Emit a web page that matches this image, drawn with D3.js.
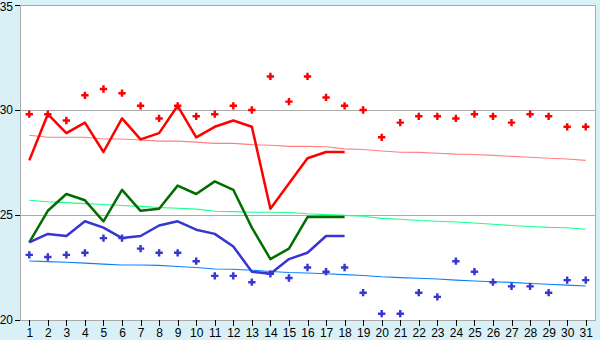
<!DOCTYPE html>
<html lang="en">
<head>
<meta charset="utf-8">
<style>
  body { margin: 0; padding: 0; background: #d9f0f7; }
  svg { display: block; font-family: "DejaVu Sans", Verdana, sans-serif; }
  .axis .domain { display: none; }
  .axis text { font-size: 12px; fill: #000; }
  .axis line { stroke: #000; }
</style>
</head>
<body>
<svg width="600" height="340"></svg>
<script src="https://d3js.org/d3.v7.min.js"></script>
<script>
// days of the month
var days = d3.range(1, 32);
var yTicks = [20, 25, 30, 35];

// daily max / min (points)
var maxDaily = [29.8, 29.8, 29.5, 30.7, 31.0, 30.8, 30.2, 29.6, 30.2, 29.7,
  29.8, 30.2, 30.0, 31.6, 30.4, 31.6, 30.6, 30.2, 30.0, 28.7,
  29.4, 29.7, 29.7, 29.6, 29.8, 29.7, 29.4, 29.8, 29.7, 29.2, 29.2];
var minDaily = [23.1, 23.0, 23.1, 23.2, 23.9, 23.9, 23.4, 23.2, 23.2, 22.8,
  22.1, 22.1, 21.8, 22.2, 22.0, 22.5, 22.3, 22.5, 21.3, 20.3,
  20.3, 21.3, 21.1, 22.8, 22.3, 21.8, 21.6, 21.6, 21.3, 21.9, 21.9];

// running averages (first 18 days)
var maxAvg = [27.6, 29.8, 28.9, 29.4, 28.0, 29.6, 28.6, 28.9, 30.2, 28.7,
  29.2, 29.5, 29.2, 25.3, 26.5, 27.7, 28.0, 28.0];
var meanAvg = [23.7, 25.2, 26.0, 25.7, 24.7, 26.2, 25.2, 25.3, 26.4, 26.0,
  26.6, 26.2, 24.4, 22.9, 23.4, 24.9, 24.9, 24.9];
var minAvg = [23.7, 24.1, 24.0, 24.7, 24.4, 23.9, 24.0, 24.5, 24.7, 24.3,
  24.1, 23.5, 22.3, 22.2, 22.9, 23.2, 24.0, 24.0];

// normals
var maxNormal = [28.8, 28.7, 28.7, 28.7, 28.62, 28.62, 28.57, 28.52, 28.52, 28.47,
  28.41, 28.41, 28.35, 28.32, 28.27, 28.27, 28.25, 28.15, 28.12, 28.05,
  27.99, 27.98, 27.94, 27.9, 27.88, 27.84, 27.79, 27.75, 27.7, 27.67, 27.6];
var meanNormal = [25.7, 25.63, 25.59, 25.54, 25.5, 25.45, 25.41, 25.36, 25.32, 25.28,
  25.18, 25.16, 25.13, 25.13, 25.12, 25.06, 25.02, 24.98, 24.94, 24.84,
  24.8, 24.74, 24.7, 24.67, 24.62, 24.56, 24.5, 24.45, 24.41, 24.39, 24.32];
var minNormal = [22.81, 22.78, 22.75, 22.71, 22.66, 22.62, 22.62, 22.6, 22.55, 22.5,
  22.43, 22.42, 22.37, 22.31, 22.26, 22.24, 22.2, 22.16, 22.12, 22.06,
  22.02, 21.99, 21.95, 21.9, 21.86, 21.82, 21.79, 21.74, 21.7, 21.66, 21.62];

var svg = d3.select("svg"),
  margin = { top: 5, right: 5, bottom: 20, left: 20 },
  width = +svg.attr("width") - margin.left - margin.right,
  height = +svg.attr("height") - margin.top - margin.bottom,
  g = svg.append("g").attr("transform", "translate(" + margin.left + "," + margin.top + ")");

var x = d3.scalePoint().domain(days).range([0, width]).padding(0.5);
var y = d3.scaleLinear().domain([20, 35]).range([height, 0]);

g.append("rect")
  .attr("width", width)
  .attr("height", height)
  .attr("fill", "#fff")
  .attr("stroke", "#aaa")
  .attr("shape-rendering", "crispEdges");

// grid lines
g.append("g").selectAll("line")
  .data([25, 30])
  .enter().append("line")
  .attr("x1", 0)
  .attr("x2", width)
  .attr("y1", function(d) { return y(d); })
  .attr("y2", function(d) { return y(d); })
  .attr("stroke", "#aaa")
  .attr("shape-rendering", "crispEdges");

// axes
g.append("g")
  .attr("class", "axis")
  .attr("transform", "translate(0," + height + ")")
  .call(d3.axisBottom(x).tickSize(6).tickPadding(2))
  .selectAll("line").attr("shape-rendering", "crispEdges");

var yAxis = g.append("g")
  .attr("class", "axis")
  .call(d3.axisLeft(y).tickValues(yTicks).tickSize(5).tickPadding(2));
yAxis.selectAll("line").attr("shape-rendering", "crispEdges");
// top label would be clipped, nudge it down a bit
yAxis.selectAll("text")
  .filter(function(d) { return d === 35; })
  .attr("y", 2);

function drawLine(values, color, w) {
  var line = d3.line()
    .x(function(d, i) { return x(days[i]); })
    .y(function(d) { return y(d); });
  g.append("path")
    .datum(values)
    .attr("fill", "none")
    .attr("stroke", color)
    .attr("stroke-width", w)
    .attr("stroke-linejoin", "round")
    .attr("d", line);
}

drawLine(maxNormal, "#ff8080", 1.1);
drawLine(meanNormal, "#1aff8c", 1.1);
drawLine(minNormal, "#0a80ff", 1.1);

drawLine(maxAvg, "#ff0000", 2.5);
drawLine(meanAvg, "#006e00", 2.5);
drawLine(minAvg, "#3636d0", 2.5);

function drawPoints(values, color) {
  g.append("g").selectAll("path")
    .data(values)
    .enter().append("path")
    .attr("transform", function(d, i) { return "translate(" + x(days[i]) + "," + y(d) + ")"; })
    .attr("d", d3.symbol().type(d3.symbolCross).size(30))
    .attr("fill", color);
}

drawPoints(maxDaily, "#ff0000");
drawPoints(minDaily, "#3636d0");
</script>
</body>
</html>
